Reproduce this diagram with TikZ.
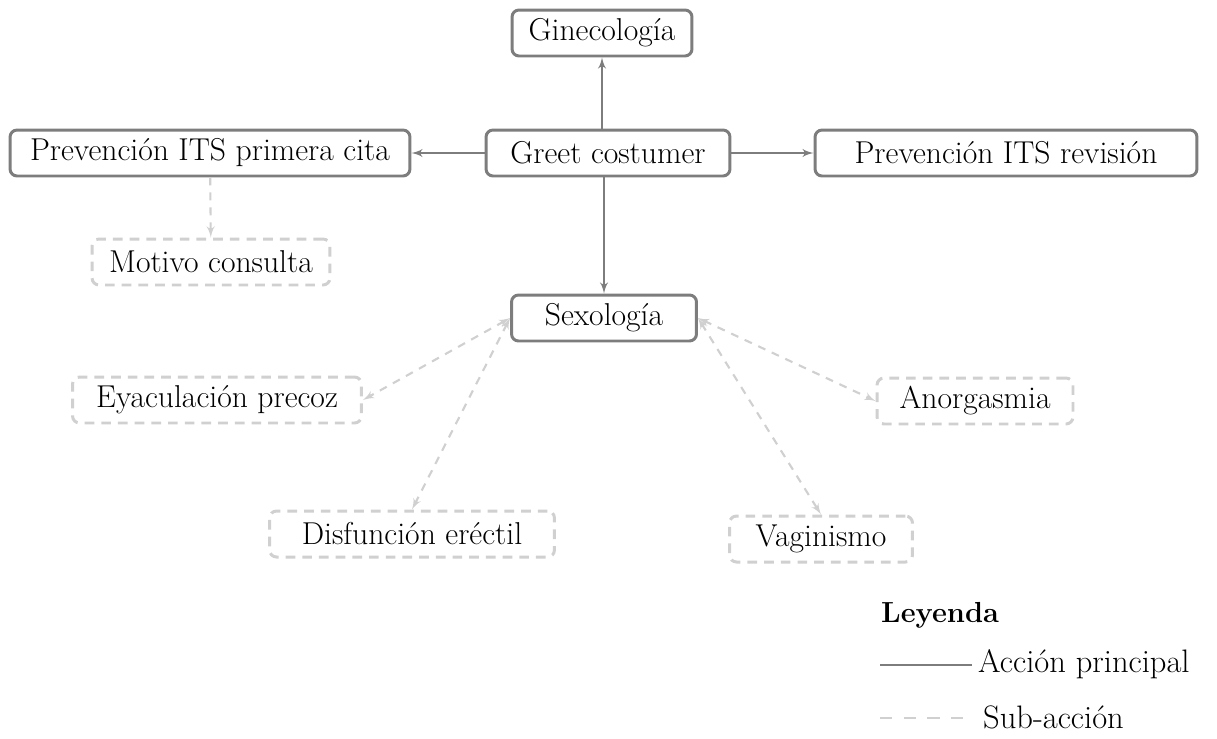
\documentclass[tikz,border=0pt]{standalone}
\usepackage{tikz}
\usetikzlibrary{arrows}
\definecolor{maingray}{RGB}{125,125,125}
\definecolor{subgray}{RGB}{208,208,208}

\begin{document}
\begin{tikzpicture}[x=0.02cm,y=-0.02cm,font=\fontsize{18}{22}\selectfont]
\tikzset{mainbox/.style = {shape=rectangle,draw=maingray,line width=1.7pt,
rounded corners=4pt,inner sep=0pt,minimum height=0.92cm}}
\tikzset{subbox/.style = {shape=rectangle,draw=subgray,line width=1.7pt,
dash pattern=on 5.5pt off 4pt,rounded corners=4pt,inner sep=0pt,minimum height=0.92cm}}
\tikzset{mainedge/.style = {->,> = latex',draw=maingray,line width=1.2pt}}
\tikzset{subedge/.style = {> = latex',draw=subgray,line width=1.2pt,dash pattern=on 4.5pt off 4pt}}
\useasboundingbox (0,0) rectangle (1217,738);
% vertices
\node[mainbox,minimum width=3.6cm] (gine) at (602,33) {Ginecología};
\node[mainbox,minimum width=4.88cm] (greet) at (608,153) {Greet costumer};
\node[mainbox,minimum width=8cm] (primera) at (210,153) {Prevención ITS primera cita};
\node[mainbox,minimum width=7.64cm] (revision) at (1006,153) {Prevención ITS revisión};
\node[subbox,minimum width=4.76cm] (motivo) at (211,262) {Motivo consulta};
\node[mainbox,minimum width=3.7cm] (sexo) at (604,318) {Sexología};
\node[subbox,minimum width=5.78cm] (eyac) at (217,400) {Eyaculación precoz};
\node[subbox,minimum width=3.92cm] (anor) at (975,401) {Anorgasmia};
\node[subbox,minimum width=5.7cm] (disf) at (412,534) {Disfunción eréctil};
\node[subbox,minimum width=3.66cm] (vagi) at (821,539) {Vaginismo};
%edges
\draw[mainedge] (greet.north -| gine.south) to (gine);
\draw[mainedge] (greet) to (primera);
\draw[mainedge] (greet) to (revision);
\draw[mainedge] (greet.south -| sexo.north) to (sexo);
\draw[subedge,->] (primera) to (motivo);
\draw[subedge,<->] (sexo.west) to (eyac.east);
\draw[subedge,<->] (sexo.west) to (disf.north);
\draw[subedge,<->] (sexo.east) to (anor.west);
\draw[subedge,<->] (sexo.east) to (vagi.north);
% legend
\node[anchor=west,font=\fontsize{16.5}{20}\selectfont\bfseries] (leyenda) at (875,615) {Leyenda};
\node[anchor=west,font=\fontsize{18.5}{22}\selectfont] (principal) at (972,664) {Acción principal};
\node[anchor=west,font=\fontsize{18.5}{22}\selectfont] (subaccion) at (977,717) {Sub-acción};
\coordinate (mainstart) at (880,665);
\coordinate (substart) at (880,718);
\draw[draw=maingray,line width=1.6pt] (mainstart) -- (mainstart -| principal.west);
\draw[draw=subgray,line width=1.6pt,dash pattern=on 7pt off 6.5pt] (substart) -- (substart -| principal.west);
\end{tikzpicture}
\end{document}
